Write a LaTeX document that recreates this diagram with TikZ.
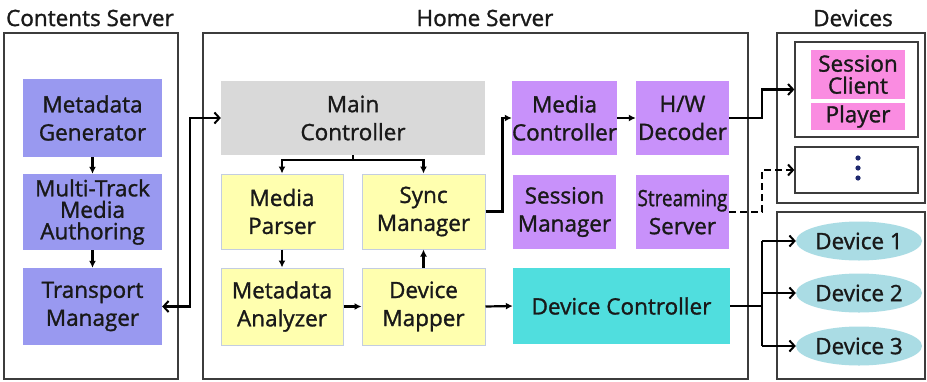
\documentclass[tikz,border=0pt]{standalone}
\usepackage{fontspec}
\usepackage{graphicx}
\setmainfont{Open Sans}[BoldFont={Open Sans}, BoldFeatures={FakeBold=1.3}]
\usetikzlibrary{arrows.meta,shapes.geometric}
\definecolor{ink}{RGB}{25,25,25}
\definecolor{frame}{RGB}{60,60,60}
\definecolor{blueA}{RGB}{153,153,240}
\definecolor{yellowA}{RGB}{255,255,175}
\definecolor{yellowB}{RGB}{195,205,225}
\definecolor{grayA}{RGB}{217,217,217}
\definecolor{purpleA}{RGB}{200,145,250}
\definecolor{pinkA}{RGB}{250,140,225}
\definecolor{cyanA}{RGB}{80,222,222}
\definecolor{ellA}{RGB}{170,220,228}
\definecolor{navy}{RGB}{30,40,110}
\tikzset{
  box/.style={rectangle, inner sep=0pt, align=center, text=ink},
  container/.style={rectangle, draw=frame, line width=1.3pt, fill=white, inner sep=0pt},
  bluebox/.style={box, fill=blueA},
  yelbox/.style={box, fill=yellowA, draw=yellowB, line width=1pt},
  graybox/.style={box, fill=grayA},
  purbox/.style={box, fill=purpleA},
  pinkbox/.style={box, fill=pinkA},
  cyanbox/.style={box, fill=cyanA},
  devell/.style={ellipse, fill=ellA, inner sep=0pt, text=ink},
  title/.style={text=ink, inner sep=0pt},
  link/.style={line width=2.2pt, draw=black, -{Latex[length=7pt,width=7pt]}},
  barb/.style={line width=2.2pt, draw=black, -{Straight Barb[length=5pt,width=11pt,line width=2pt]}},
  dblbarb/.style={line width=2.2pt, draw=black, {Straight Barb[length=5pt,width=11pt,line width=2pt]}-{Straight Barb[length=5pt,width=11pt,line width=2pt]}},
}
\begin{document}
\begin{tikzpicture}[x=1pt, y=-1pt, font=\fontsize{22.5}{28}\selectfont\bfseries]
\useasboundingbox (0,0) rectangle (927,381);

% titles
\node[title] (tcs) at (90,18) {Contents Server};
\node[title] (ths) at (485,18) {Home Server};
\node[title] (tdv) at (853,18) {Devices};

% outer frames
\node[container, minimum width=174pt, minimum height=346pt] (cs) at (91,206) {};
\node[container, minimum width=545pt, minimum height=346pt] (hs) at (475.5,206) {};
\node[container, minimum width=148pt, minimum height=170pt] (dva) at (851,118) {};
\node[container, minimum width=148pt, minimum height=167pt] (dvb) at (851,295.5) {};
\node[container, minimum width=123pt, minimum height=95pt] (in1) at (856.5,89.5) {};
\node[container, minimum width=123pt, minimum height=46pt] (in2) at (856.5,170) {};

% contents server
\node[bluebox, minimum width=139pt, minimum height=78pt] (mg) at (92.5,118) {Metadata\\Generator};
\node[bluebox, minimum width=139pt, minimum height=76pt, font=\fontsize{22.5}{21.5}\selectfont\bfseries] (mt) at (92.5,212) {Multi-Track\\Media\\Authoring};
\node[bluebox, minimum width=139pt, minimum height=77pt] (tm) at (92.5,306.5) {Transport\\Manager};

% home server
\node[graybox, minimum width=264pt, minimum height=74pt] (mc) at (353,118) {Main\\Controller};
\node[yelbox, minimum width=122pt, minimum height=75pt] (mp) at (282,211.5) {Media\\Parser};
\node[yelbox, minimum width=123pt, minimum height=75pt] (sm) at (423.5,211.5) {Sync\\Manager};
\node[yelbox, minimum width=122pt, minimum height=77pt] (ma) at (282,306.5) {Metadata\\Analyzer};
\node[yelbox, minimum width=123pt, minimum height=77pt] (dm) at (423.5,306.5) {Device\\Mapper};
\node[purbox, minimum width=103pt, minimum height=74pt] (medc) at (564.5,118) {Media\\Controller};
\node[purbox, minimum width=93pt, minimum height=74pt] (hw) at (682.5,118) {H/W\\Decoder};
\node[purbox, minimum width=103pt, minimum height=74pt] (ssm) at (564.5,212) {Session\\Manager};
\node[purbox, minimum width=93pt, minimum height=74pt] (ss) at (682.5,212) {\scalebox{0.84}[1]{Streaming}\\Server};
\node[cyanbox, minimum width=217pt, minimum height=76pt] (dc) at (621.5,306) {Device Controller};

% devices
\node[pinkbox, minimum width=94pt, minimum height=49pt, font=\fontsize{22.5}{22}\selectfont\bfseries] (sc) at (858,74.5) {Session\\Client};
\node[pinkbox, minimum width=94pt, minimum height=27pt] (pl) at (858,116.5) {Player};
\foreach \yy in {158,168,178} \fill[navy] (858,\yy) circle (2.6pt);
\node[devell, minimum width=126pt, minimum height=39pt] (d1) at (859,241) {Device 1};
\node[devell, minimum width=126pt, minimum height=39pt] (d2) at (859,293) {Device 2};
\node[devell, minimum width=126pt, minimum height=39pt] (d3) at (859,346) {Device 3};

% connectors inside the contents server
\draw[link] (mg.south) -- (mt.north);
\draw[link] (mt.south) -- (tm.north);

% contents server <-> main controller
\draw[dblbarb] (tm.east) -- ++(28,0) |- (mc.west);

% main controller fan-out
\draw[line width=2.2pt] (mc.south) -- ++(0,5) coordinate (fan);
\draw[link] (fan) -| (mp.north);
\draw[link] (fan) -| (sm.north);

\draw[link] (mp.south) -- (ma.north);
\draw[link] (ma.east) -- (dm.west);
\draw[link] (dm.north) -- (sm.south);
\draw[link] (dm.east) -- (dc.west);
\draw[link] (sm.east) -- ++(17,0) |- (medc.west);
\draw[link] (medc.east) -- (hw.west);

% links out to the devices
\draw[barb] (hw.east) -- ++(33,0) |- (in1.west);
\draw[barb, dash pattern=on 7pt off 4pt] (ss.east) -- ++(33,0) |- (in2.west);
\draw[line width=2.2pt] (dc.east) -- ++(32,0) coordinate (br);
\draw[line width=2.2pt] (br |- d1.west) -- (br |- d3.west);
\draw[barb] (br |- d1.west) -- (d1.west);
\draw[barb] (br |- d2.west) -- (d2.west);
\draw[barb] (br |- d3.west) -- (d3.west);
\end{tikzpicture}
\end{document}
